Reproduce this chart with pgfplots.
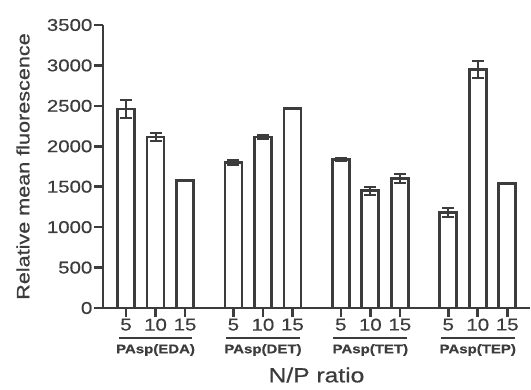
\documentclass[border=0pt]{standalone}
\usepackage{fontspec}
\setmainfont[FakeStretch=1.2, FakeBold=0.6]{Liberation Sans}
\usepackage{pgfplots}
\pgfplotsset{compat=1.18}
\definecolor{ink}{HTML}{3C3C3C}
\newcommand{\tickfont}{\fontsize{17}{17}\selectfont}
\begin{document}
\begin{tikzpicture}
\useasboundingbox (-103pt,-81pt) rectangle (428pt,308pt);
\begin{axis}[name=ax, at={(0,0)}, anchor=south west,
  scale only axis, width=427pt, height=283pt,
  xmin=-0.78, xmax=13.69, ymin=0, ymax=3500,
  axis lines*=left, clip=false,
  axis line style={line width=2.6pt, ink},
  every tick/.style={line width=2.6pt, ink},
  major tick length=9pt, tick align=outside,
  ytick={0,500,...,3500},
  yticklabels={0,500,1000,1500,2000,2500,3000,3500},
  xtick={0,1,2,3.64,4.64,5.64,7.28,8.28,9.28,10.92,11.92,12.92},
  xticklabels={5,10,15,5,10,15,5,10,15,5,10,15},
  yticklabel style={font=\tickfont, text=ink, inner sep=1.5pt},
  xticklabel style={font=\tickfont, text=ink, inner sep=1.5pt},
  xlabel={N/P ratio},
  ylabel={Relative mean fluorescence},
  xlabel style={at={([yshift=-67pt]axis description cs:0.5,0)}, anchor=center, font=\fontsize{20.5}{20.5}\selectfont, text=ink},
  ylabel style={at={([xshift=-80pt]axis description cs:0,0.5)}, anchor=center, font=\fontsize{18}{18}\selectfont, text=ink},
]
\addplot[ybar, bar width=17pt, fill=white, draw=ink, line width=2.8pt,
  error bars/.cd, y dir=both, y explicit,
  error bar style={line width=2pt, ink},
  error mark options={rotate=90, mark size=6pt, line width=2pt, ink}]
coordinates {
(0,2460) +- (0,110)
(1,2115) +- (0,45)
(2,1580) +- (0,5)
(3.64,1800) +- (0,30)
(4.64,2115) +- (0,30)
(5.64,2470) +- (0,5)
(7.28,1840) +- (0,20)
(8.28,1450) +- (0,50)
(9.28,1600) +- (0,55)
(10.92,1180) +- (0,60)
(11.92,2950) +- (0,100)
(12.92,1540) +- (0,10)
};
\draw[ink, line width=1.8pt] ([yshift=-30pt]axis cs:-0.25,0) -- ([yshift=-30pt]axis cs:2.25,0);
\draw[ink, line width=1.8pt] ([yshift=-30pt]axis cs:3.39,0) -- ([yshift=-30pt]axis cs:5.89,0);
\draw[ink, line width=1.8pt] ([yshift=-30pt]axis cs:7.03,0) -- ([yshift=-30pt]axis cs:9.53,0);
\draw[ink, line width=1.8pt] ([yshift=-30pt]axis cs:10.67,0) -- ([yshift=-30pt]axis cs:13.17,0);
\node[text=ink, font=\fontsize{12.5}{12.5}\selectfont\bfseries] at ([yshift=-42pt]axis cs:1,0) {PAsp(EDA)};
\node[text=ink, font=\fontsize{12.5}{12.5}\selectfont\bfseries] at ([yshift=-42pt]axis cs:4.64,0) {PAsp(DET)};
\node[text=ink, font=\fontsize{12.5}{12.5}\selectfont\bfseries] at ([yshift=-42pt]axis cs:8.28,0) {PAsp(TET)};
\node[text=ink, font=\fontsize{12.5}{12.5}\selectfont\bfseries] at ([yshift=-42pt]axis cs:11.92,0) {PAsp(TEP)};
\end{axis}
\end{tikzpicture}
\end{document}
